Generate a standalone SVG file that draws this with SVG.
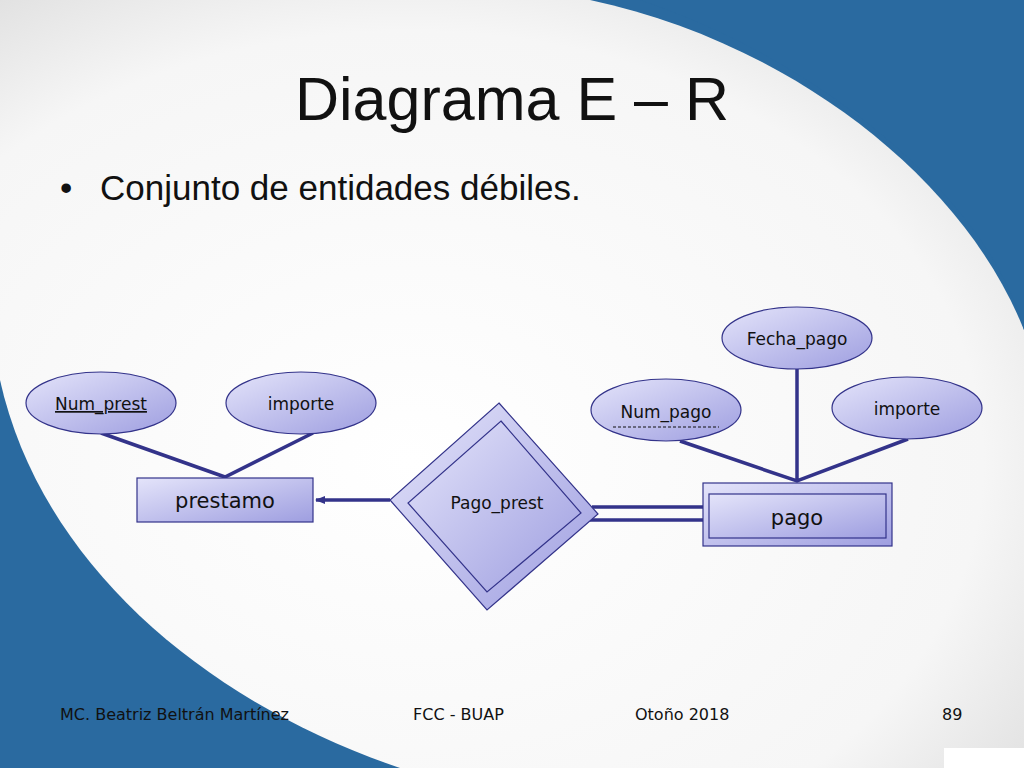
<svg xmlns="http://www.w3.org/2000/svg" width="1024" height="768" viewBox="0 0 1024 768">
<defs>
<linearGradient id="g" x1="0" y1="0" x2="1" y2="1"><stop offset="0" stop-color="#e4e4fa"/><stop offset="1" stop-color="#9e9ee0"/></linearGradient>
<radialGradient id="bg" cx="0.4" cy="0.6" r="0.8"><stop offset="0" stop-color="#ffffff"/><stop offset="0.7" stop-color="#f6f6f6"/><stop offset="1" stop-color="#d8d8d8"/></radialGradient>
<marker id="ar" markerWidth="10" markerHeight="8" refX="9" refY="4" orient="auto" markerUnits="userSpaceOnUse"><path d="M0,0 L10,4 L0,8 Z" fill="#33338a"/></marker>
</defs>
<style>
.sh{fill:url(#g);stroke:#33338a;stroke-width:1.2}
.ln{stroke:#33338a;stroke-width:3.5;fill:none}
.t{font-family:"DejaVu Sans",sans-serif;fill:#111;text-anchor:middle}
.f{font-family:"DejaVu Sans",sans-serif;font-size:16px;fill:#111}
</style>
<rect width="1024" height="768" fill="#2a6aa0"/>
<path d="M0,0 L590,0 C780,40 960,170 1024,330 L1024,768 L400,768 C200,700 40,560 0,380 Z" fill="url(#bg)"/>
<path d="M640,0 C820,60 990,200 1024,330 L1024,0 Z" fill="#2a6aa0"/>
<rect x="944" y="748" width="80" height="20" fill="#ffffff"/>
<text x="512" y="120" font-family="Liberation Sans,Arial,sans-serif" font-size="61" text-anchor="middle" fill="#111">Diagrama E – R</text>
<text x="60" y="200" font-family="Liberation Sans,Arial,sans-serif" font-size="35" fill="#111">•</text>
<text x="100" y="200" font-family="Liberation Sans,Arial,sans-serif" font-size="35" fill="#111">Conjunto de entidades débiles.</text>
<g id="connectors">
<path class="ln" d="M101,433 L225,477 L313,433"/>
<path class="ln" d="M680,441 L797,481 L908,439 M797,369 L797,481"/>
<path class="ln" d="M390,500 L316,500" marker-end="url(#ar)"/>
<path class="ln" d="M592,507 L703,507 M590,520 L703,520"/>
</g>
<g id="Num_prest"><ellipse class="sh" cx="101" cy="403" rx="75" ry="31"/><text class="t" x="101" y="410" font-size="17" text-decoration="underline">Num_prest</text></g>
<g id="importe1"><ellipse class="sh" cx="301" cy="403" rx="75" ry="31"/><text class="t" x="301" y="410" font-size="17">importe</text></g>
<g id="prestamo"><rect class="sh" x="137" y="478" width="176" height="44"/><text class="t" x="225" y="508" font-size="21">prestamo</text></g>
<g id="Pago_prest"><path class="sh" d="M499,403 L598,514 L487,610 L390,500 Z"/><path class="sh" d="M501,421 L581,513 L487,592 L408,503 Z"/><text class="t" x="497" y="509" font-size="17">Pago_prest</text></g>
<g id="pago"><rect class="sh" x="703" y="483" width="189" height="63"/><rect class="sh" x="709" y="494" width="177" height="44"/><text class="t" x="797" y="525" font-size="21">pago</text></g>
<g id="Num_pago"><ellipse class="sh" cx="666" cy="410" rx="75" ry="31"/><text class="t" x="666" y="418" font-size="17">Num_pago</text><path d="M613,427 L719,427" stroke="#111" stroke-width="1" stroke-dasharray="3,2"/></g>
<g id="Fecha_pago"><ellipse class="sh" cx="797" cy="338" rx="75" ry="31"/><text class="t" x="797" y="345" font-size="17">Fecha_pago</text></g>
<g id="importe2"><ellipse class="sh" cx="907" cy="408" rx="75" ry="31"/><text class="t" x="907" y="415" font-size="17">importe</text></g>
<text class="f" x="60" y="720">MC. Beatriz Beltrán Martínez</text>
<text class="f" x="413" y="720">FCC - BUAP</text>
<text class="f" x="635" y="720">Otoño 2018</text>
<text class="f" x="942" y="720">89</text>
</svg>
